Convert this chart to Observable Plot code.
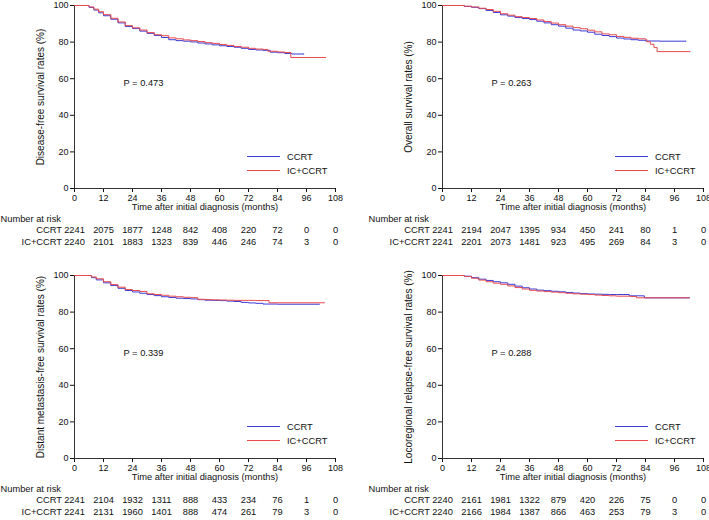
<!DOCTYPE html>
<html><head><meta charset="utf-8">
<script src="https://cdn.jsdelivr.net/npm/d3@7"></script>
<script src="https://cdn.jsdelivr.net/npm/@observablehq/plot@0.6"></script>
<style>
body{margin:0;background:#fff;}
#wrap{position:relative;width:709px;height:520px;overflow:hidden;background:#fff;}
.panel{position:absolute;}
</style></head><body><div id="wrap"></div>
<script>
// ---------- shared ----------
const groups = ["CCRT", "IC+CCRT"];
const colors = ["#3b3bd9", "#e94a4d"];
const xTicks = [0, 12, 24, 36, 48, 60, 72, 84, 96, 108];
const yTicks = [0, 20, 40, 60, 80, 100];
const riskMonths = [0, 12, 24, 36, 48, 60, 72, 84, 96, 108];
const xTitle = "Time after initial diagnosis (months)";
const riskTitle = "Number at risk";

// ---------- panel A: disease-free survival ----------
const dfsLabel = "Disease-free survival rates (%)";
const dfsP = "P = 0.473";
const dfsCcrtT = [0,4,6,8,10,12,15,18,21,24,27,30,33,36,39,42,45,48,51,54,57,60,63,66,69,72,75,78,81,84,87,90,95];
const dfsCcrtS = [100,100,99,97.5,96,94.4,92.5,90.5,88.5,87.5,86,84.8,83.6,82.5,81.3,80.8,80.5,80.1,79.5,79,78.5,78,77.6,77.2,76.6,76,75.7,75.5,74.5,74.2,73.8,73.5,73.5];
const dfsIcT = [0,4,6,8,10,12,15,18,21,24,27,30,33,36,39,42,45,48,51,54,57,60,63,66,69,72,75,78,80,84,87,89.5,104];
const dfsIcS = [100,100,99.2,98,96.6,95,93,91,89,87.8,86.6,85.2,84,83.5,82.3,81.8,81.2,80.8,80.3,79.7,79.3,78.7,78.2,77.6,77.2,76.6,76.2,76,75,74.6,74.3,71.6,71.6];
const dfsRiskCcrt = [2241,2075,1877,1248,842,408,220,72,0,0];
const dfsRiskIc = [2240,2101,1883,1323,839,446,246,74,3,0];

// ---------- panel B: overall survival ----------
const osLabel = "Overall survival rates (%)";
const osP = "P = 0.263";
const osCcrtT = [0,6,9,12,15,18,21,24,27,30,33,36,39,42,45,48,51,54,57,60,63,66,69,72,75,78,81,84,90,100.8];
const osCcrtS = [100,100,99.5,99,98.3,97.3,96.2,94.9,94.2,93.4,92.9,92.3,91.4,90.5,89.5,88.7,87.6,86.6,86.1,85.4,84.3,83.6,83,82.2,81.7,81.3,81,80.6,80.5,80.5];
const osIcT = [0,6,9,12,15,18,21,24,27,30,33,36,39,42,45,48,51,54,57,60,63,66,69,72,75,78,81,84,84.5,86,87.5,88.8,102.5];
const osIcS = [100,100,99.6,99.2,98.5,97.8,96.8,95.5,94.7,93.9,93.4,92.9,92.1,91.2,90.4,89.5,88.7,87.9,87.3,86.5,85.6,84.5,84,83.1,82.6,82.1,81.8,81.5,80.2,78.8,77,74.8,74.8];
const osRiskCcrt = [2241,2194,2047,1395,934,450,241,80,1,0];
const osRiskIc = [2241,2201,2073,1481,923,495,269,84,3,0];

// ---------- panel C: distant metastasis-free survival ----------
const dmfsLabel = "Distant metastasis-free survival rates (%)";
const dmfsP = "P = 0.339";
const dmfsCcrtT = [0,5,7,9,12,15,18,21,24,27,30,33,36,39,42,45,48,51,54,57,60,63,66,69,72,75,78,84,90,101.4];
const dmfsCcrtS = [100,100,98.8,97.6,96,94.5,93,91.8,91,90.3,89.6,89,88.4,88,87.6,87.4,87.2,86.8,86.5,86.4,86.3,86,85.8,85.3,85,84.8,84.4,84.3,84.3,84.3];
const dmfsIcT = [0,5,7,9,12,15,18,21,24,27,30,33,36,39,42,45,48,51,54,57,60,63,66,69,72,75,78,80.5,90,103.5];
const dmfsIcS = [100,100,99.2,98.2,96.6,95,93.6,92.3,91.8,91.3,90,89.6,89.2,88.7,88.4,88.1,87.9,87,86.8,86.7,86.6,86.5,86.4,86.4,86.4,86.3,86.3,85.1,85.1,85.1];
const dmfsRiskCcrt = [2241,2104,1932,1311,888,433,234,76,1,0];
const dmfsRiskIc = [2241,2131,1960,1401,888,474,261,79,3,0];

// ---------- panel D: locoregional relapse-free survival ----------
const lrrfsLabel = "Locoregional relapse-free survival rates (%)";
const lrrfsP = "P = 0.288";
const lrrfsCcrtT = [0,6,9,12,15,18,21,24,27,30,33,36,39,42,45,48,51,54,57,60,63,66,69,72,77.3,83.5,102.2];
const lrrfsCcrtS = [100,100,99.6,98.8,98,97.3,96.6,96,95.2,94.2,93.3,92.6,92,91.7,91.4,91.1,90.7,90.4,90.1,89.9,89.8,89.7,89.6,89.6,88.9,87.8,87.8];
const lrrfsIcT = [0,6,9,12,15,18,21,24,27,30,33,36,39,42,45,48,51,54,57,60,63,66,69,72,78,80.3,102.2];
const lrrfsIcS = [100,100,99.5,98.5,97.5,96.6,95.8,95.2,94.3,93.4,92.6,91.9,91.5,91.2,90.9,90.6,90.3,90,89.8,89.6,89.3,89.1,88.9,88.7,88.5,87.8,87.8];
const lrrfsRiskCcrt = [2240,2161,1981,1322,879,420,226,75,0,0];
const lrrfsRiskIc = [2240,2166,1984,1387,866,463,253,79,3,0];

// ---------- build ----------
const zip = (t, s, g) => t.map((d, i) => ({t: d, s: s[i], g}));
const riskRows = (vals) => riskMonths.map((m, i) => ({m, n: String(vals[i])}));

const TXT = 9.3;

function legendMark(...args) {
  const dims = args.find(a => a && typeof a === "object" && "marginLeft" in a && "width" in a);
  const right = dims.width - dims.marginRight;
  const bottom = dims.height - dims.marginBottom;
  const g = d3.create("svg:g").attr("font-size", TXT).attr("text-anchor", "start");
  groups.forEach((name, i) => {
    const y = bottom - 31.5 + i * 14;
    g.append("line").attr("x1", right - 88).attr("x2", right - 55)
      .attr("y1", y).attr("y2", y).attr("stroke", colors[i]).attr("stroke-width", 1);
    g.append("text").attr("x", right - 48).attr("y", y).attr("dy", "0.35em")
      .attr("text-anchor", "start").attr("fill", "#111").text(name);
  });
  return g.node();
}

function panel(cfg) {
  const lines = [...zip(cfg.ccrtT, cfg.ccrtS, groups[0]), ...zip(cfg.icT, cfg.icS, groups[1])];
  return Plot.plot({
    width: 340, height: 250,
    marginLeft: 74, marginRight: 5, marginTop: 5, marginBottom: 62,
    style: {fontFamily: "'Liberation Sans', Arial, sans-serif", fontSize: "9px", color: "#111", background: "transparent", overflow: "visible"},
    x: {domain: [0, 108], ticks: xTicks, tickSize: 4, tickPadding: 2, label: null},
    y: {domain: [0, 100], ticks: yTicks, tickSize: 4, tickPadding: 2, label: null},
    color: {domain: groups, range: colors},
    marks: [
      Plot.ruleX([0], {stroke: "#333"}),
      Plot.ruleY([0], {stroke: "#333"}),
      Plot.line(lines.filter(d => d.g === groups[0]), {x: "t", y: "s", stroke: "g", curve: "step-after", strokeWidth: 1}),
      Plot.line(lines.filter(d => d.g === groups[1]), {x: "t", y: "s", stroke: "g", curve: "step-after", strokeWidth: 1}),
      Plot.text([cfg.p], {frameAnchor: "top-left", dx: 49, dy: 78, textAnchor: "start", lineAnchor: "middle", fontSize: TXT}),
      Plot.text([cfg.label], {frameAnchor: "left", dx: -34, rotate: -90, textAnchor: "middle", lineAnchor: "middle", fontSize: 10}),
      Plot.text([xTitle], {frameAnchor: "bottom", dy: 21, fontSize: TXT}),
      Plot.text([riskTitle], {frameAnchor: "bottom-left", dx: -74, dy: 33, textAnchor: "start", fontSize: TXT}),
      Plot.text([groups[0]], {frameAnchor: "bottom-left", dx: -12.5, dy: 44, textAnchor: "end", fontSize: TXT}),
      Plot.text([groups[1]], {frameAnchor: "bottom-left", dx: -12.5, dy: 56, textAnchor: "end", fontSize: TXT}),
      Plot.text(riskRows(cfg.riskC), {x: "m", text: "n", frameAnchor: "bottom", dy: 44, fontSize: TXT}),
      Plot.text(riskRows(cfg.riskI), {x: "m", text: "n", frameAnchor: "bottom", dy: 56, fontSize: TXT}),
      legendMark
    ]
  });
}

const panels = [
  {left: 0, top: 0, label: dfsLabel, p: dfsP, ccrtT: dfsCcrtT, ccrtS: dfsCcrtS, icT: dfsIcT, icS: dfsIcS, riskC: dfsRiskCcrt, riskI: dfsRiskIc},
  {left: 368, top: 0, label: osLabel, p: osP, ccrtT: osCcrtT, ccrtS: osCcrtS, icT: osIcT, icS: osIcS, riskC: osRiskCcrt, riskI: osRiskIc},
  {left: 0, top: 270, label: dmfsLabel, p: dmfsP, ccrtT: dmfsCcrtT, ccrtS: dmfsCcrtS, icT: dmfsIcT, icS: dmfsIcS, riskC: dmfsRiskCcrt, riskI: dmfsRiskIc},
  {left: 368, top: 270, label: lrrfsLabel, p: lrrfsP, ccrtT: lrrfsCcrtT, ccrtS: lrrfsCcrtS, icT: lrrfsIcT, icS: lrrfsIcS, riskC: lrrfsRiskCcrt, riskI: lrrfsRiskIc}
];

const wrap = document.getElementById("wrap");
for (const cfg of panels) {
  const div = document.createElement("div");
  div.className = "panel";
  div.style.left = cfg.left + "px";
  div.style.top = cfg.top + "px";
  div.appendChild(panel(cfg));
  wrap.appendChild(div);
}
</script></body></html>
